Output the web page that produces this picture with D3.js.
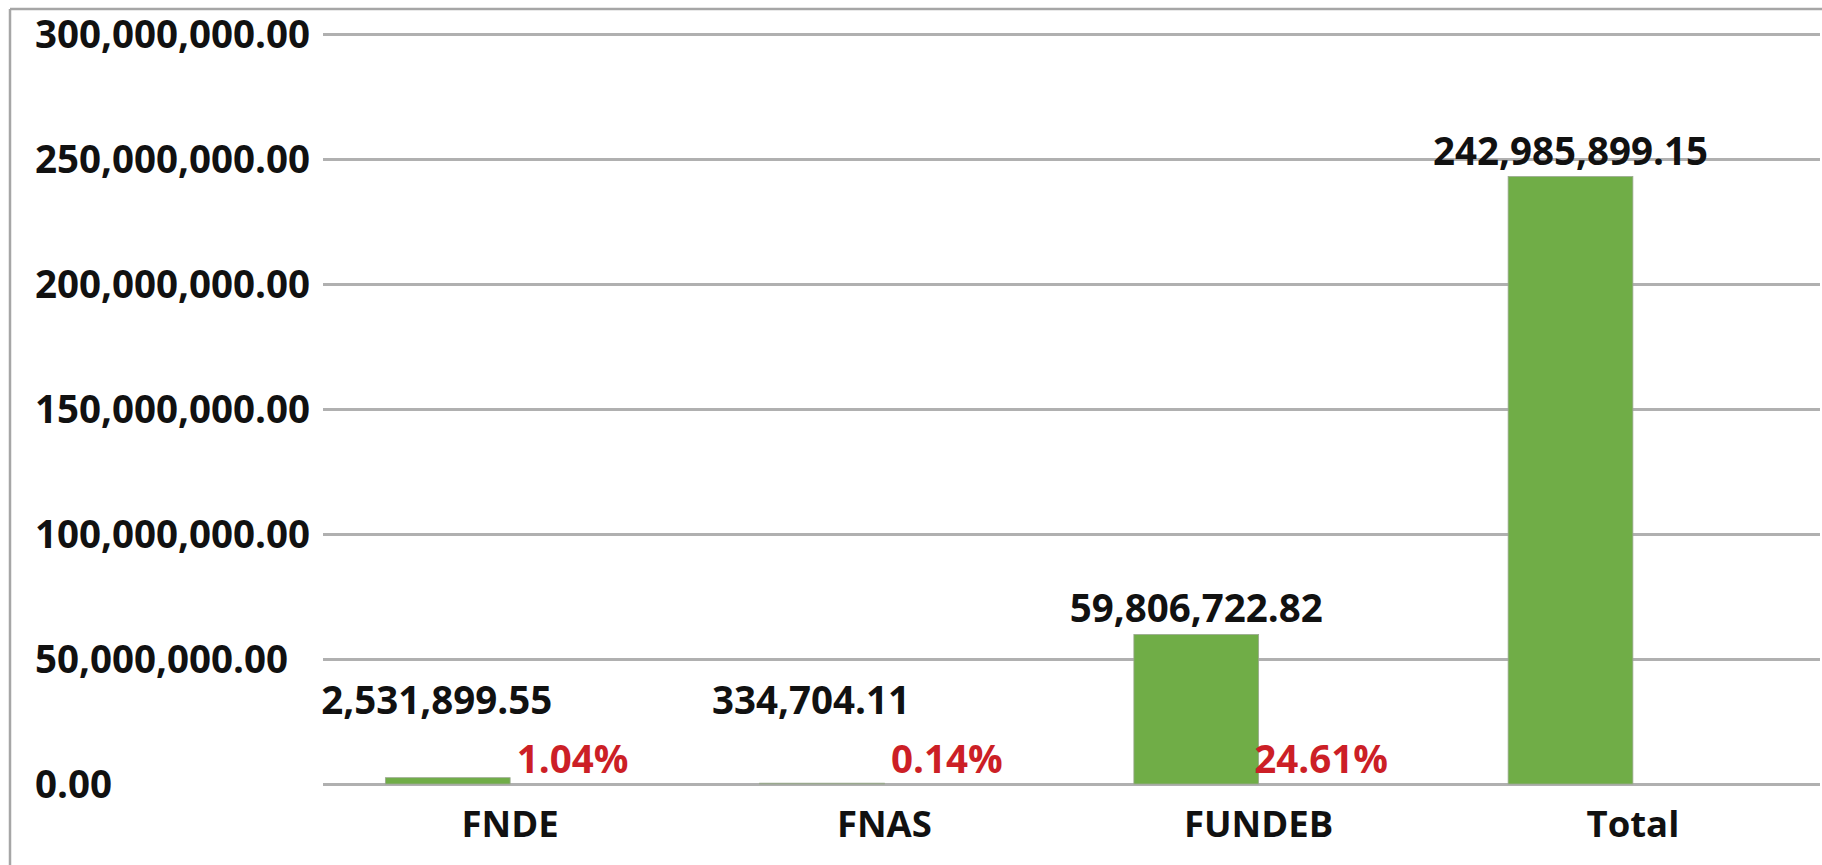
<!DOCTYPE html>
<html>
<head>
<meta charset="utf-8">
<script src="https://cdn.jsdelivr.net/npm/d3@7"></script>
<style>
  html, body { margin: 0; padding: 0; background: #fff; }
  svg { display: block; }
  text { font-family: "Open Sans", "Noto Sans", sans-serif; font-weight: 700; }
</style>
</head>
<body>
<svg id="chart" width="1822" height="865"></svg>
<script>
const categories = ["FNDE", "FNAS", "FUNDEB", "Total"];
const values = [2531899.55, 334704.11, 59806722.82, 242985899.15];
const percentLabels = ["1.04%", "0.14%", "24.61%", null];
const yTicks = [0, 50000000, 100000000, 150000000, 200000000, 250000000, 300000000];

const svg = d3.select("#chart");
const W = 1822, H = 865;
const plot = { left: 323, right: 1820, top: 34, bottom: 784 };

const x = d3.scaleBand().domain(categories).range([plot.left, plot.right]).padding(0);
const sub = d3.scaleBand().domain(["value", "pct"]).range([0, x.bandwidth()]).paddingInner(0).paddingOuter(0.5);
const y = d3.scaleLinear().domain([0, 300000000]).range([plot.bottom, plot.top]);

const fmt = d3.format(",.2f");

// frame
svg.append("line").attr("x1", 10).attr("x2", W).attr("y1", 9).attr("y2", 9)
  .attr("stroke", "#a6a6a6").attr("stroke-width", 2.5);
svg.append("line").attr("x1", 10).attr("x2", 10).attr("y1", 9).attr("y2", H)
  .attr("stroke", "#a6a6a6").attr("stroke-width", 2.5);

// gridlines + y labels via axis
const yAxis = d3.axisLeft(y).tickValues(yTicks).tickSize(-(plot.right - plot.left)).tickFormat(fmt);
const gy = svg.append("g").attr("transform", `translate(${plot.left},0)`).call(yAxis);
gy.select(".domain").remove();
gy.selectAll(".tick line").attr("stroke", "#b0b0b0").attr("stroke-width", 3);
gy.selectAll(".tick text")
  .attr("x", 35 - plot.left).attr("text-anchor", "start")
  .attr("fill", "#111").style("font-size", "38.5px").attr("dy", "0.35em");

// x axis labels
const xAxis = d3.axisBottom(x).tickSize(0).tickPadding(0);
const gx = svg.append("g").attr("transform", `translate(0,${plot.bottom})`).call(xAxis);
gx.select(".domain").remove();
gx.selectAll(".tick text").attr("fill", "#111").style("font-size", "36.5px").attr("y", 53).attr("dy", 0);

// bars
svg.append("g").selectAll("rect").data(categories).join("rect")
  .attr("x", (d) => x(d) + sub("value"))
  .attr("width", sub.bandwidth())
  .attr("y", (d, i) => y(values[i]))
  .attr("height", (d, i) => y(0) - y(values[i]))
  .attr("fill", "#70ad47")
  .attr("stroke", "#9aa88f").attr("stroke-width", 0.8);

// value labels
svg.append("g").selectAll("text").data(categories).join("text")
  .attr("x", (d, i) => {
    const cx = x(d) + sub("value") + sub.bandwidth() / 2;
    return (y(0) - y(values[i]) < 60) ? cx - 11 : cx;
  })
  .attr("y", (d, i) => Math.min(y(values[i]) - 12, y(0) - 70))
  .attr("text-anchor", "middle")
  .attr("fill", "#111").style("font-size", "38.5px")
  .text((d, i) => fmt(values[i]));

// percentage labels
svg.append("g").selectAll("text").data(categories.filter((d, i) => percentLabels[i]))
  .join("text")
  .attr("x", (d) => x(d) + sub("pct") + sub.bandwidth() / 2)
  .attr("y", y(0) - 11)
  .attr("text-anchor", "middle")
  .attr("fill", "#cc1f26").style("font-size", "38.5px")
  .text((d) => percentLabels[categories.indexOf(d)]);
</script>
</body>
</html>
